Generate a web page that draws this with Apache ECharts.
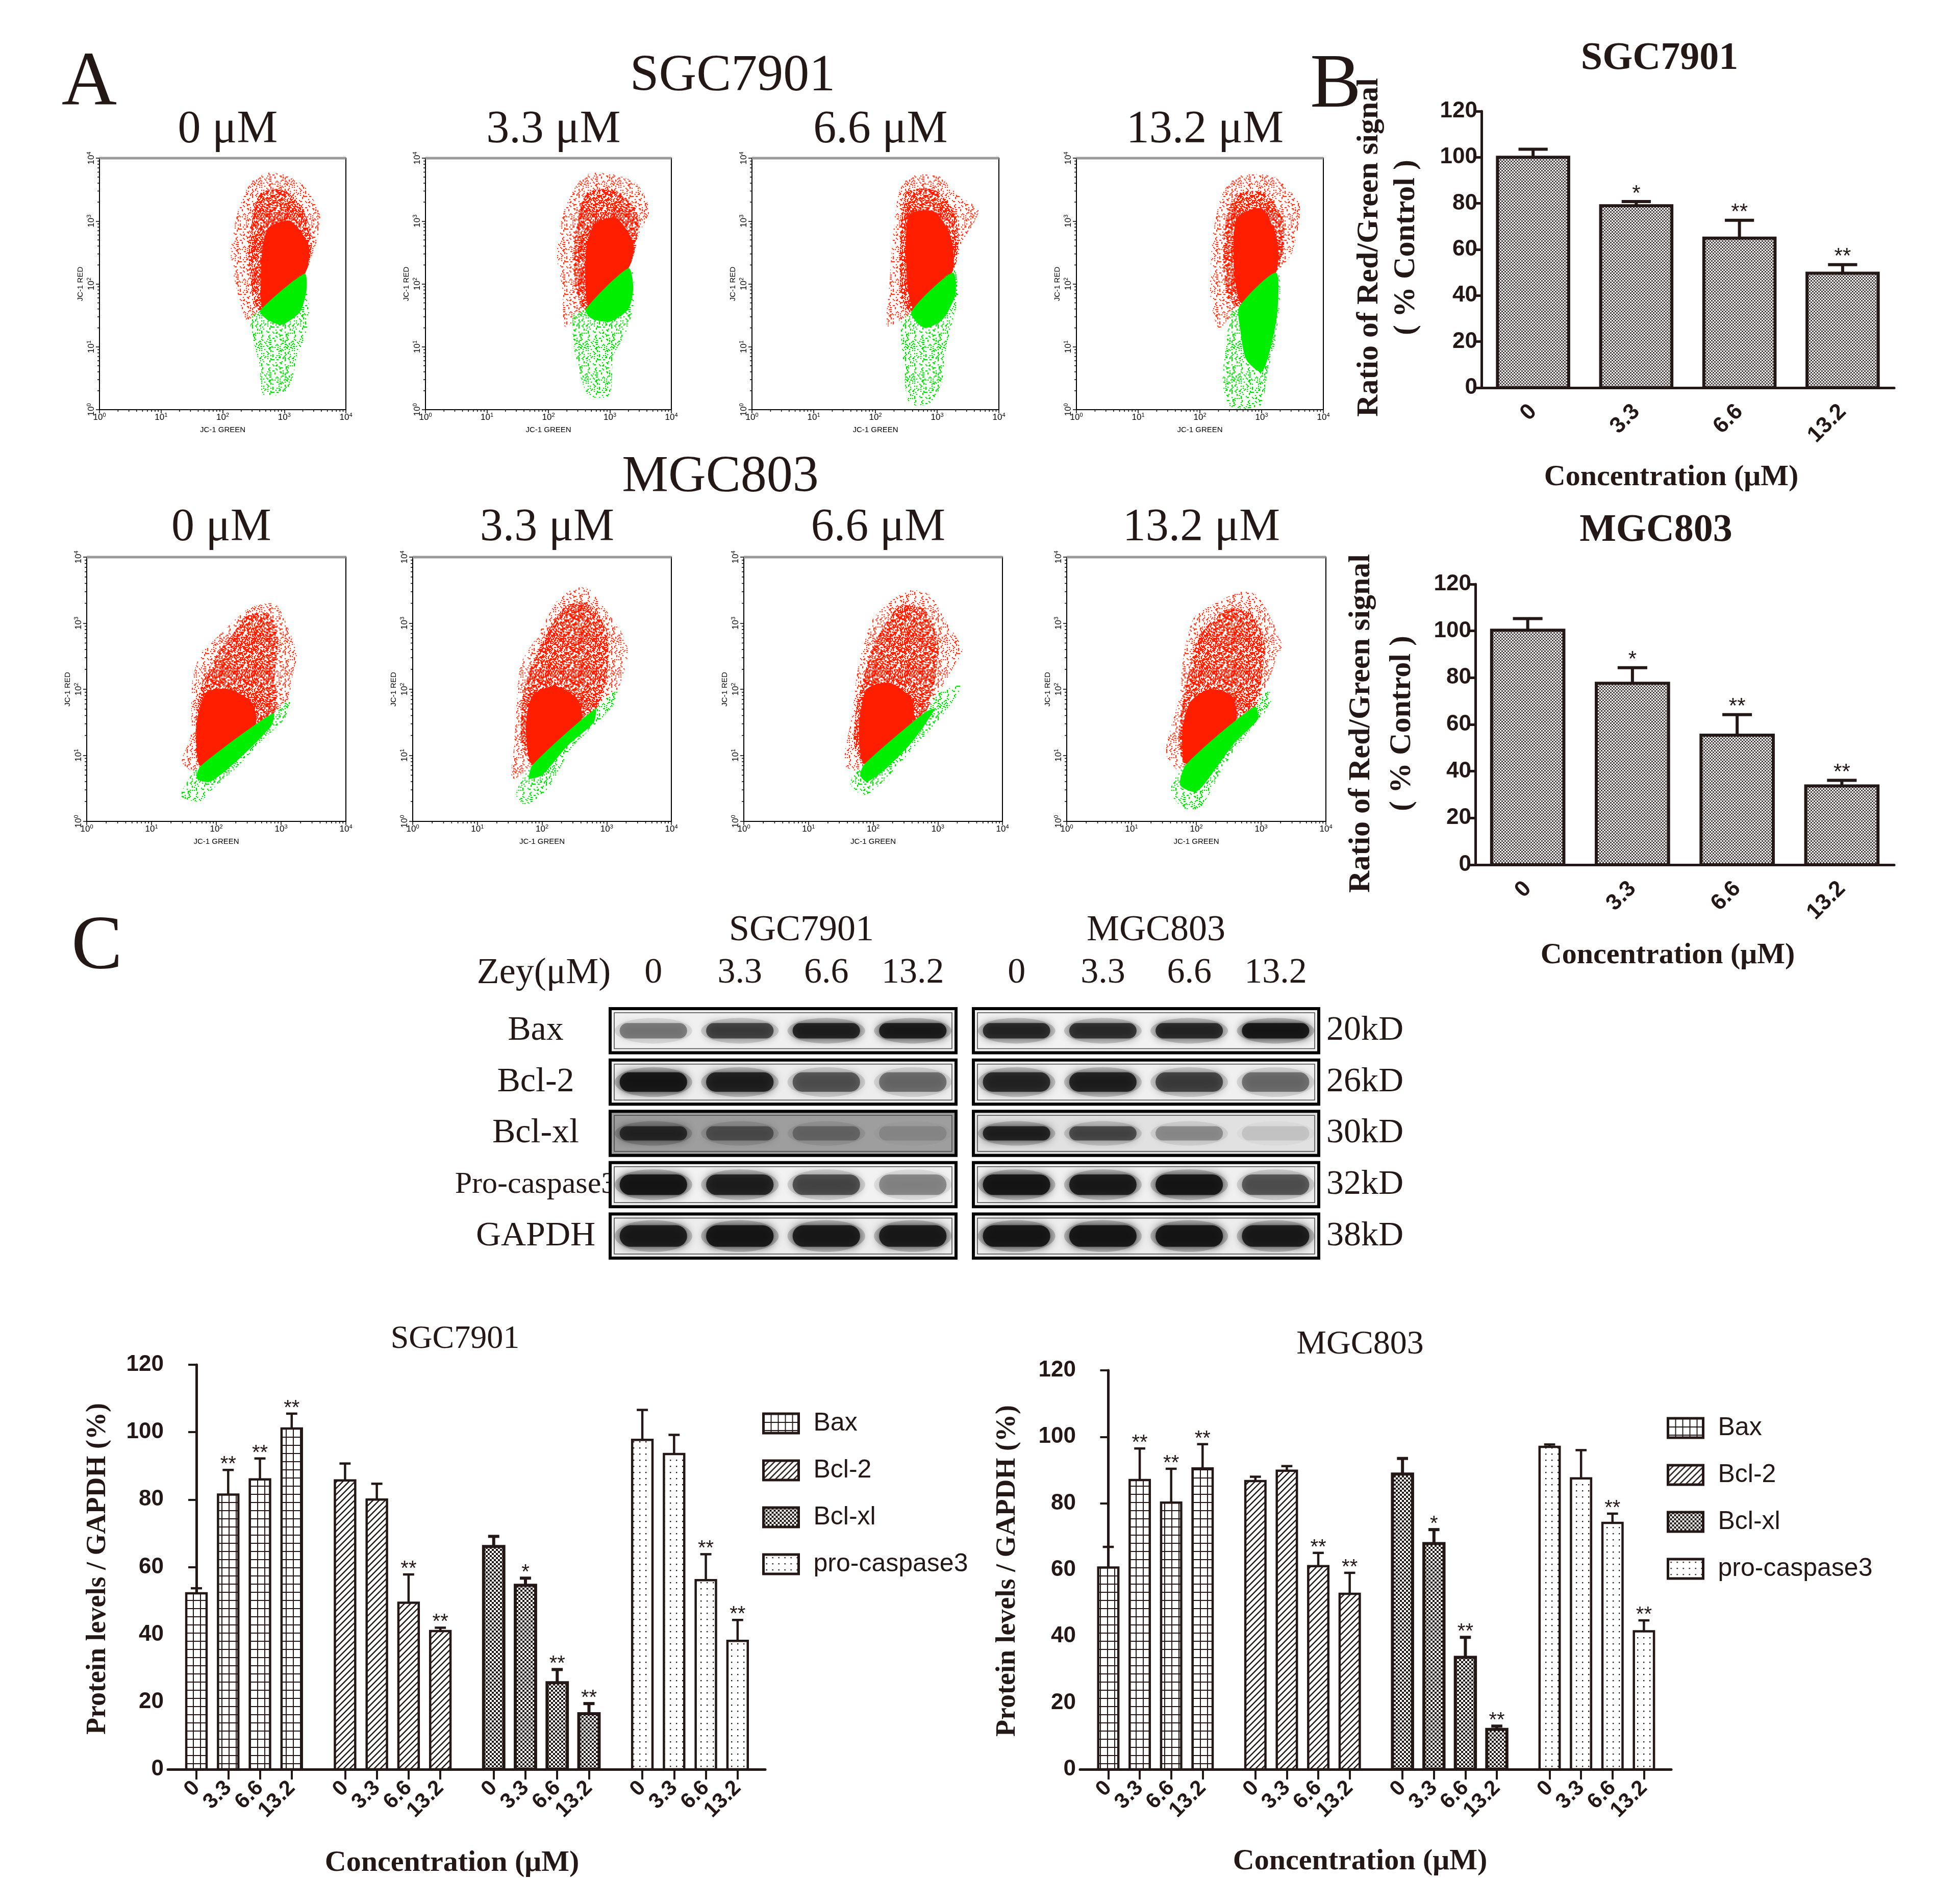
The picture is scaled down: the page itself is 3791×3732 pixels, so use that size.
<!DOCTYPE html>
<html>
<head>
<meta charset="utf-8">
<script src="https://cdn.jsdelivr.net/npm/echarts@6/dist/echarts.min.js"></script>
<style>
  html, body { margin: 0; padding: 0; background: #fff; }
  #main { width: 3791px; height: 3732px; }
</style>
</head>
<body>
<div id="main"></div>
<script>
// ---------------- data ----------------
const doses = ['0', '3.3', '6.6', '13.2'];
const flowLabels = ['0 μM', '3.3 μM', '6.6 μM', '13.2 μM'];

// JC-1 flow cytometry clouds: outline vertices as [log10 green, log10 red]
const sgcRedOuter = [
  [[2.68,3.76],[2.99,3.74],[3.33,3.55],[3.57,3.13],[3.57,2.84],[3.44,2.42],[3.33,2.16],[2.61,1.58],[2.4,1.41],[2.23,1.91],[2.13,2.5],[2.23,3.09],[2.44,3.59]],
  [[2.68,3.76],[3.06,3.74],[3.44,3.59],[3.64,3.17],[3.47,2.79],[3.3,2.25],[2.61,1.6],[2.27,1.32],[2.23,1.91],[2.13,2.5],[2.23,3.09],[2.47,3.59]],
  [[2.58,3.72],[3.01,3.72],[3.14,3.62],[3.34,3.41],[3.67,3.17],[3.41,2.66],[3.24,2.18],[2.58,1.55],[2.19,1.33],[2.22,1.88],[2.29,2.83],[2.39,3.48]],
  [[2.64,3.72],[3.16,3.72],[3.36,3.58],[3.62,3.24],[3.49,2.49],[3.23,2.18],[2.64,1.64],[2.31,1.3],[2.17,1.81],[2.21,2.76],[2.37,3.45]]
];
const sgcRedMid = [
  [[2.62,3.45],[2.98,3.5],[3.3,3.2],[3.45,2.7],[3.33,2.16],[2.61,1.58],[2.47,1.9],[2.42,2.6],[2.5,3.1]],
  [[2.62,3.45],[3.05,3.5],[3.42,3.2],[3.45,2.75],[3.3,2.25],[2.61,1.6],[2.45,1.9],[2.42,2.6],[2.5,3.1]],
  [[2.5,3.45],[2.95,3.5],[3.25,3.2],[3.35,2.7],[3.24,2.18],[2.58,1.55],[2.42,1.8],[2.4,2.6]],
  [[2.55,3.4],[3.05,3.45],[3.35,3.0],[3.35,2.5],[3.23,2.18],[2.64,1.64],[2.45,1.8],[2.38,2.6]]
];
const sgcRedCore = [
  [[2.75,2.9],[3.1,3.0],[3.4,2.6],[3.33,2.16],[2.66,1.63],[2.62,2.1],[2.65,2.6]],
  [[2.75,2.95],[3.1,3.05],[3.38,2.65],[3.3,2.25],[2.66,1.66],[2.6,2.1],[2.62,2.6]],
  [[2.55,3.1],[2.95,3.15],[3.22,2.75],[3.24,2.18],[2.62,1.62],[2.5,2.3]],
  [[2.6,3.05],[3.0,3.2],[3.25,2.7],[3.23,2.18],[2.68,1.7],[2.55,2.3]]
];
const sgcGreenOuter = [
  [[2.61,1.58],[3.33,2.18],[3.37,1.91],[3.4,1.4],[3.2,0.8],[3.1,0.4],[2.95,0.25],[2.65,0.25],[2.6,0.7],[2.5,1.1],[2.45,1.45]],
  [[2.61,1.6],[3.33,2.27],[3.4,1.91],[3.37,1.58],[3.25,1.2],[3.06,0.86],[2.99,0.23],[2.65,0.23],[2.44,0.86],[2.4,1.49]],
  [[2.58,1.55],[3.27,2.22],[3.34,1.81],[3.27,1.47],[3.14,0.96],[3.08,0.44],[2.88,0.1],[2.55,0.1],[2.45,0.78],[2.42,1.4]],
  [[2.64,1.64],[3.26,2.18],[3.3,1.81],[3.23,1.13],[3.1,0.61],[2.97,0.05],[2.5,0.05],[2.37,0.44],[2.44,1.13],[2.5,1.54]]
];
const sgcGreenCore = [
  [[2.61,1.58],[3.33,2.16],[3.36,1.9],[3.25,1.55],[2.95,1.35],[2.7,1.45]],
  [[2.61,1.6],[3.3,2.25],[3.38,1.95],[3.3,1.6],[3.0,1.4],[2.7,1.45]],
  [[2.58,1.55],[3.25,2.18],[3.3,1.85],[3.1,1.45],[2.8,1.3]],
  [[2.64,1.64],[3.23,2.18],[3.26,1.6],[3.15,1.0],[3.0,0.6],[2.75,0.8],[2.65,1.3]]
];
const mgcRedOuter = [
  [[2.71,3.29],[2.91,3.29],[3.01,3.15],[3.24,2.54],[3.17,2.17],[3.1,1.83],[2.91,1.66],[1.76,0.84],[1.63,0.76],[1.47,0.91],[1.6,1.28],[1.63,2.13],[1.76,2.54],[1.93,2.71],[2.45,3.19]],
  [[2.52,3.53],[2.71,3.53],[2.97,3.22],[3.24,2.85],[3.33,2.54],[3.17,2.0],[2.84,1.72],[1.86,0.86],[1.54,0.64],[1.57,1.15],[1.6,1.66],[1.67,2.37],[1.93,2.81],[2.25,3.36]],
  [[2.59,3.5],[2.87,3.43],[3.13,3.02],[3.38,2.61],[3.25,2.34],[3.0,1.93],[2.81,1.66],[1.87,0.87],[1.71,0.77],[1.55,0.87],[1.68,1.66],[1.77,2.34],[1.99,3.05],[2.31,3.36]],
  [[2.7,3.48],[2.92,3.43],[3.11,3.16],[3.33,2.65],[3.26,2.54],[3.11,2.1],[2.92,1.76],[1.85,0.87],[1.72,0.77],[1.53,1.04],[1.72,1.83],[1.82,2.61],[1.97,3.09],[2.35,3.33]]
];
const mgcRedMid = [
  [[2.45,3.1],[2.8,3.15],[2.95,2.8],[2.9,2.2],[2.91,1.66],[1.76,0.84],[1.68,1.3],[1.75,2.0],[2.0,2.5],[2.3,2.9]],
  [[2.35,3.25],[2.7,3.3],[3.0,2.9],[3.0,2.2],[2.84,1.72],[1.86,0.86],[1.68,1.2],[1.72,2.0],[1.95,2.6]],
  [[2.4,3.25],[2.8,3.2],[3.0,2.7],[2.95,2.1],[2.81,1.66],[1.87,0.87],[1.7,1.2],[1.8,2.0],[2.05,2.75]],
  [[2.45,3.2],[2.85,3.15],[3.05,2.7],[3.0,2.1],[2.92,1.76],[1.85,0.87],[1.72,1.25],[1.85,2.1],[2.05,2.8]]
];
const mgcRedCore = [
  [[1.76,0.84],[2.6,1.45],[2.55,1.8],[2.2,2.0],[1.85,1.95],[1.7,1.5],[1.7,1.05]],
  [[1.86,0.86],[2.6,1.5],[2.55,1.85],[2.2,2.05],[1.85,1.9],[1.75,1.4]],
  [[1.87,0.87],[2.6,1.5],[2.6,1.85],[2.25,2.1],[1.9,2.0],[1.78,1.4]],
  [[1.85,0.87],[2.6,1.5],[2.55,1.9],[2.2,2.0],[1.9,1.8],[1.78,1.3]]
];
const mgcGreenOuter = [
  [[1.76,0.84],[2.91,1.66],[3.15,1.85],[3.05,1.55],[2.7,1.22],[2.3,0.8],[1.9,0.45],[1.75,0.3],[1.45,0.38],[1.55,0.6],[1.65,0.75]],
  [[1.86,0.86],[2.84,1.72],[3.17,2.0],[3.1,1.75],[2.75,1.4],[2.45,1.1],[2.1,0.5],[1.75,0.25],[1.6,0.4],[1.7,0.65]],
  [[1.87,0.87],[2.81,1.66],[3.0,1.93],[3.38,2.06],[3.06,1.59],[2.56,1.04],[2.18,0.63],[1.87,0.39],[1.65,0.56],[1.71,0.73]],
  [[1.85,0.87],[2.92,1.76],[3.11,2.0],[3.15,1.8],[2.9,1.45],[2.6,1.1],[2.3,0.6],[2.05,0.2],[1.8,0.2],[1.6,0.45],[1.7,0.7]]
];
const mgcGreenCore = [
  [[1.76,0.84],[2.88,1.64],[2.85,1.45],[2.3,0.9],[1.9,0.6],[1.7,0.65]],
  [[1.86,0.86],[2.82,1.7],[2.8,1.5],[2.4,1.15],[2.0,0.7],[1.8,0.65]],
  [[1.87,0.87],[2.8,1.65],[2.95,1.7],[2.6,1.2],[2.2,0.8],[1.9,0.6],[1.8,0.7]],
  [[1.85,0.87],[2.9,1.74],[2.95,1.55],[2.6,1.2],[2.3,0.8],[2.0,0.45],[1.75,0.55]]
];

// panel B: red/green ratio (% control)
const sgcRatio = [100, 79, 64.9, 49.7];
const sgcRatioErr = [103.5, 80.8, 72.7, 53.4];
const sgcRatioStars = ['', '*', '**', '**'];
const mgcRatio = [100.3, 77.6, 55.4, 33.7];
const mgcRatioErr = [105.3, 84.3, 64.2, 36.1];
const mgcRatioStars = ['', '*', '**', '**'];

// panel C: western blots (band darkness 0..1)
const blotRows = ['Bax', 'Bcl-2', 'Bcl-xl', 'Pro-caspase3', 'GAPDH'];
const blotKd = ['20kD', '26kD', '30kD', '32kD', '38kD'];
const sgcBands = [[0.45,0.7,0.9,0.95],[1,0.9,0.6,0.5],[0.8,0.5,0.35,0.15],[1,0.9,0.65,0.4],[0.95,1,0.95,0.95]];
const mgcBands = [[0.85,0.8,0.85,1],[0.85,0.9,0.7,0.5],[0.9,0.65,0.35,0.12],[1,0.95,1,0.6],[1,1,1,0.95]];
const sgcBlotBg = [0.04, 0.05, 0.36, 0.03, 0.05];
const mgcBlotBg = [0.03, 0.04, 0.1, 0.04, 0.05];

// panel C: protein levels / GAPDH (%)
const proteins = ['Bax', 'Bcl-2', 'Bcl-xl', 'pro-caspase3'];
const sgcProtein = [[52.2,81.5,86,101.1],[85.7,80,49.4,41],[66.1,54.6,25.7,16.5],[97.7,93.5,56.1,38.1]];
const sgcProteinErr = [[53.7,88.8,92.2,105.5],[90.7,84.7,57.8,42],[69.1,56.7,29.6,19.5],[106.6,99.2,63.8,44.3]];
const sgcProteinStars = [['','**','**','**'],['','','**','**'],['','*','**','**'],['','','**','**']];
const mgcProtein = [[60.7,87,80.2,90.5],[86.7,89.8,61.1,52.8],[88.8,67.9,33.7,12],[97,87.5,74.1,41.5]];
const mgcProteinErr = [[66.9,96.5,90.4,97.8],[88,91.2,65.1,59.1],[93.5,72.1,39.7,13],[97.7,96,76.9,44.8]];
const mgcProteinStars = [['','**','**','**'],['','','**','**'],['','*','**','**'],['','','**','**']];

// ---------------- styles ----------------
const INK = '#231816';
const SERIF = "'Liberation Serif','Times New Roman',serif";
const SANS = "'Liberation Sans',Arial,sans-serif";

function pattern(w, h, draw) {
  const c = document.createElement('canvas');
  c.width = w; c.height = h;
  const ctx = c.getContext('2d');
  ctx.fillStyle = '#fff';
  draw(ctx);
  return { image: c, repeat: 'repeat' };
}
// fine speckle texture for the cytometry dots (fixed integer hash on a 2px lattice)
function cellHash(x, y) {
  let h = Math.imul(x ^ (y << 16), 0x45d9f3b);
  h ^= h >>> 16;
  h = Math.imul(h, 0x45d9f3b);
  h ^= h >>> 16;
  return (h >>> 0) % 1000;
}
function speckle(color, share) {
  return pattern(64, 64, ctx => {
    ctx.fillStyle = color;
    for (let y = 0; y < 64; y += 2) {
      for (let x = 0; x < 64; x += 2) {
        if (cellHash(x + 1, y + 3) < share * 1000) ctx.fillRect(x, y, 2.2, 2.2);
      }
    }
  });
}
const redSparse = speckle('#ff3a1a', 0.22);
const redMid = speckle('#ff2000', 0.58);
const greenSparse = speckle('#00e000', 0.22);
const checkerB = pattern(6, 6, ctx => { ctx.fillRect(0,0,6,6); ctx.fillStyle = '#4a4040'; ctx.fillRect(0,0,3,3); ctx.fillRect(3,3,3,3); });
const patBax = pattern(14, 16, ctx => { ctx.fillRect(0,0,14,16); ctx.fillStyle = INK; ctx.fillRect(0,0,14,2); ctx.fillRect(0,0,2,16); });
const patBcl2 = pattern(12, 12, ctx => {
  ctx.fillRect(0,0,12,12); ctx.strokeStyle = INK; ctx.lineWidth = 2.5;
  [[-6,6,6,-6],[0,12,12,0],[6,18,18,6]].forEach(l => { ctx.beginPath(); ctx.moveTo(l[0],l[1]); ctx.lineTo(l[2],l[3]); ctx.stroke(); });
});
const patBclxl = pattern(8, 8, ctx => { ctx.fillRect(0,0,8,8); ctx.fillStyle = INK; ctx.fillRect(0,0,4,4); ctx.fillRect(4,4,4,4); });
const patPro = pattern(12, 12, ctx => { ctx.fillRect(0,0,12,12); ctx.fillStyle = INK; ctx.fillRect(5,5,2.4,2.4); });
const proteinFills = [patBax, patBcl2, patBclxl, patPro];

// ---------------- layout ----------------
const flowBoxes = [
  [195,310,483,493],[834,310,482,493],[1474,310,484,493],[2110,310,484,493],
  [170,1092,508,518],[809,1092,507,518],[1458,1092,507,518],[2091,1092,508,518]
];
const grid = [], xAxis = [], yAxis = [], series = [];

const minorTicks = [];
for (let d = 0; d < 4; d++) for (let k = 2; k <= 9; k++) minorTicks.push([d + Math.log10(k), d + Math.log10(k)]);

const expLabel = v => '{b|10}{e|' + v + '}';
const expRich = { b: { fontSize: 17, fontFamily: SANS, color: '#000' }, e: { fontSize: 11, fontFamily: SANS, color: '#000', padding: [0, 0, 10, 0] } };

function addCloud(k, poly, fill, z) {
  series.push({
    type: 'custom', xAxisIndex: k, yAxisIndex: k, data: poly, silent: true, z,
    renderItem: (params, api) => params.dataIndex === 0 ? {
      type: 'polygon',
      shape: { points: poly.map(p => api.coord(p)), smooth: 0.25 },
      style: { fill }
    } : null
  });
}

flowBoxes.forEach((b, k) => {
  grid.push({ left: b[0], top: b[1], width: b[2], height: b[3], show: true, borderColor: '#000', borderWidth: 2 });
  xAxis.push({
    gridIndex: k, type: 'value', min: 0, max: 4, interval: 1,
    axisLine: { lineStyle: { color: '#000', width: 2 } },
    axisTick: { length: 7, lineStyle: { color: '#000', width: 1.5 } },
    splitLine: { show: false },
    axisLabel: { formatter: expLabel, rich: expRich, margin: 5 },
    name: 'JC-1 GREEN', nameLocation: 'middle', nameGap: 32,
    nameTextStyle: { fontSize: 15, fontFamily: SANS, color: '#000' }
  });
  yAxis.push({
    gridIndex: k, type: 'value', min: 0, max: 4, interval: 1,
    axisLine: { lineStyle: { color: '#000', width: 2 } },
    axisTick: { length: 7, lineStyle: { color: '#000', width: 1.5 } },
    splitLine: { show: false },
    axisLabel: { formatter: expLabel, rich: expRich, rotate: 90, margin: 5 },
    name: 'JC-1 RED', nameLocation: 'middle', nameGap: 30,
    nameTextStyle: { fontSize: 15, fontFamily: SANS, color: '#000' }
  });
  const row = k < 4 ? 0 : 1, c = k % 4;
  addCloud(k, (row ? mgcRedOuter : sgcRedOuter)[c], redSparse, 2);
  addCloud(k, (row ? mgcRedMid : sgcRedMid)[c], redMid, 3);
  addCloud(k, (row ? mgcRedCore : sgcRedCore)[c], '#ff1e00', 4);
  addCloud(k, (row ? mgcGreenOuter : sgcGreenOuter)[c], greenSparse, 5);
  addCloud(k, (row ? mgcGreenCore : sgcGreenCore)[c], '#00ee00', 6);
  series.push({
    type: 'custom', xAxisIndex: k, yAxisIndex: k, data: minorTicks, silent: true, z: 7,
    renderItem: (params, api) => {
      const v = api.value(0);
      const px = api.coord([v, 0]), py = api.coord([0, v]);
      const children = [
        { type: 'line', shape: { x1: px[0], y1: px[1], x2: px[0], y2: px[1] + 4 }, style: { stroke: '#000', lineWidth: 1.5 } },
        { type: 'line', shape: { x1: py[0], y1: py[1], x2: py[0] - 4, y2: py[1] }, style: { stroke: '#000', lineWidth: 1.5 } }
      ];
      if (params.dataIndex === 0) {
        const cs = params.coordSys;
        children.push({ type: 'line', shape: { x1: cs.x, y1: cs.y, x2: cs.x + cs.width, y2: cs.y }, style: { stroke: '#9a9a9a', lineWidth: 5 } });
      }
      return { type: 'group', children };
    }
  });
});

// bar + upper error bar + significance marks
function barItem(fillOf, widthFrac, lineW, capFrac, stars, starSize, starDrop) {
  return (params, api) => {
    const x = api.value(0), v = api.value(1), e = api.value(2);
    const top = api.coord([x, v]), base = api.coord([x, 0]), errTop = api.coord([x, e]);
    const w = api.size([1, 0])[0] * widthFrac;
    const cap = w * capFrac;
    const children = [
      { type: 'line', shape: { x1: top[0], y1: top[1], x2: top[0], y2: errTop[1] }, style: { stroke: INK, lineWidth: lineW } },
      { type: 'line', shape: { x1: top[0] - cap / 2, y1: errTop[1], x2: top[0] + cap / 2, y2: errTop[1] }, style: { stroke: INK, lineWidth: lineW } },
      { type: 'rect', shape: { x: top[0] - w / 2, y: top[1], width: w, height: base[1] - top[1] }, style: { fill: fillOf, stroke: INK, lineWidth: lineW } }
    ];
    const s = stars[params.dataIndex];
    if (s) children.push({ type: 'text', style: { text: s, x: top[0], y: errTop[1] + starDrop, textAlign: 'center', textVerticalAlign: 'bottom', fontSize: starSize, fontFamily: SANS, fill: INK } });
    return { type: 'group', children };
  };
}

// panel B
const ratioPanels = [
  { box: [2904, 218, 809, 542], values: sgcRatio, errs: sgcRatioErr, stars: sgcRatioStars },
  { box: [2892, 1145, 821, 550], values: mgcRatio, errs: mgcRatioErr, stars: mgcRatioStars }
];
ratioPanels.forEach(p => {
  const k = grid.length;
  grid.push({ left: p.box[0], top: p.box[1], width: p.box[2], height: p.box[3] });
  xAxis.push({
    gridIndex: k, type: 'category', data: doses,
    axisLine: { lineStyle: { color: INK, width: 5 } },
    axisTick: { alignWithLabel: true, length: 18, lineStyle: { color: INK, width: 5 } },
    axisLabel: { rotate: 45, fontSize: 44, fontWeight: 'bold', fontFamily: SANS, color: INK, margin: 40 }
  });
  yAxis.push({
    gridIndex: k, type: 'value', min: 0, max: 120, interval: 20,
    axisLine: { show: true, lineStyle: { color: INK, width: 5 } },
    axisTick: { show: true, length: 15, lineStyle: { color: INK, width: 5 } },
    splitLine: { show: false },
    axisLabel: { fontSize: 44, fontWeight: 'bold', fontFamily: SANS, color: INK, margin: 8 }
  });
  series.push({
    type: 'custom', xAxisIndex: k, yAxisIndex: k, silent: true, z: 3,
    data: p.values.map((v, i) => [i, v, p.errs[i]]),
    renderItem: barItem(checkerB, 0.69, 6, 0.41, p.stars, 42, 6)
  });
});

// panel C blots
const blotPanels = [
  { box: [1196, 1970, 678, 503], bands: sgcBands, bg: sgcBlotBg, side: 'left' },
  { box: [1908, 1970, 677, 503], bands: mgcBands, bg: mgcBlotBg, side: 'right' }
];
const bandHeights = [0.3, 0.38, 0.28, 0.4, 0.42];
blotPanels.forEach(p => {
  const k = grid.length;
  grid.push({ left: p.box[0], top: p.box[1], width: p.box[2], height: p.box[3] });
  xAxis.push({
    gridIndex: k, type: 'category', data: doses, position: 'top',
    axisLine: { show: false }, axisTick: { show: false },
    axisLabel: { fontSize: 70, fontFamily: SERIF, color: INK, margin: 27 }
  });
  const left = p.side === 'left';
  yAxis.push({
    gridIndex: k, type: 'category', data: left ? blotRows : blotKd, inverse: true,
    position: p.side,
    axisLine: { show: false }, axisTick: { show: false },
    axisLabel: left ? {
      align: 'center', margin: 146,
      formatter: v => v === 'Pro-caspase3' ? '{s|' + v + '}' : '{n|' + v + '}',
      rich: { s: { fontSize: 60, fontFamily: SERIF, color: INK }, n: { fontSize: 68, fontFamily: SERIF, color: INK } }
    } : { align: 'left', margin: 15, fontSize: 68, fontFamily: SERIF, color: INK }
  });
  series.push({
    type: 'custom', xAxisIndex: k, yAxisIndex: k, silent: true, z: 1,
    data: p.bg.map((g, r) => [0, r, g]),
    renderItem: (params, api) => {
      const cs = params.coordSys;
      const c = api.coord([0, api.value(1)]);
      const h = api.size([1, 1])[1] * 0.86;
      const lv = Math.round(250 - 255 * api.value(2));
      return { type: 'rect', shape: { x: cs.x, y: c[1] - h / 2, width: cs.width, height: h }, style: { fill: `rgb(${lv},${lv},${lv})` } };
    }
  });
  const bandData = [];
  p.bands.forEach((row, r) => row.forEach((a, l) => bandData.push([l, r, a])));
  series.push({
    type: 'custom', xAxisIndex: k, yAxisIndex: k, silent: true, z: 2,
    data: bandData,
    renderItem: (params, api) => {
      const c = api.coord([api.value(0), api.value(1)]);
      const sz = api.size([1, 1]);
      const a = api.value(2);
      const w = sz[0] * 0.78, h = sz[1] * bandHeights[api.value(1)];
      const col = `rgba(18,18,18,${a * 0.92})`;
      return { type: 'group', children: [
        { type: 'ellipse', shape: { cx: c[0], cy: c[1], rx: w / 2 + 10, ry: h / 2 + 10 }, style: { fill: `rgba(18,18,18,${a * 0.22})`, shadowBlur: 22, shadowColor: `rgba(18,18,18,${a * 0.3})` } },
        { type: 'rect', shape: { x: c[0] - w / 2, y: c[1] - h / 2, width: w, height: h, r: h / 2 }, style: { fill: col, shadowBlur: 16, shadowColor: col } }
      ] };
    }
  });
  series.push({
    type: 'custom', xAxisIndex: k, yAxisIndex: k, silent: true, z: 3,
    data: p.bg.map((g, r) => [0, r]),
    renderItem: (params, api) => {
      const cs = params.coordSys;
      const c = api.coord([0, api.value(1)]);
      const h = api.size([1, 1])[1] * 0.86;
      return { type: 'group', children: [
        { type: 'rect', shape: { x: cs.x, y: c[1] - h / 2, width: cs.width, height: h }, style: { fill: 'none', stroke: '#000', lineWidth: 6 } },
        { type: 'rect', shape: { x: cs.x + 8, y: c[1] - h / 2 + 8, width: cs.width - 16, height: h - 16 }, style: { fill: 'none', stroke: '#444', lineWidth: 1.5 } }
      ] };
    }
  });
});

// panel C quantification
const GROUP_STEP = 4.68;
const barPos = (g, i) => g * GROUP_STEP + i;
const barTicks = [];
proteins.forEach((_, g) => doses.forEach((_, i) => barTicks.push(barPos(g, i))));
const tickText = v => {
  const idx = barTicks.findIndex(t => Math.abs(t - v) < 0.01);
  return idx < 0 ? '' : doses[idx % 4];
};
const proteinPanels = [
  { box: [329, 2675, 1171, 793], values: sgcProtein, errs: sgcProteinErr, stars: sgcProteinStars },
  { box: [2117, 2686, 1159, 782], values: mgcProtein, errs: mgcProteinErr, stars: mgcProteinStars }
];
proteinPanels.forEach(p => {
  const k = grid.length;
  grid.push({ left: p.box[0], top: p.box[1], width: p.box[2], height: p.box[3] });
  xAxis.push({
    gridIndex: k, type: 'value', min: -0.9, max: 3 * GROUP_STEP + 3.87,
    axisLine: { lineStyle: { color: INK, width: 5 } },
    axisTick: { customValues: barTicks, length: 20, lineStyle: { color: INK, width: 4 } },
    splitLine: { show: false },
    axisLabel: {
      customValues: barTicks, formatter: tickText, rotate: 45, fontSize: 42, fontWeight: 'bold',
      fontFamily: SANS, color: INK, margin: 30, hideOverlap: false, showMinLabel: true, showMaxLabel: true
    }
  });
  yAxis.push({
    gridIndex: k, type: 'value', min: 0, max: 120, interval: 20,
    axisLine: { show: true, lineStyle: { color: INK, width: 5 } },
    axisTick: { show: true, length: 16, lineStyle: { color: INK, width: 4 } },
    splitLine: { show: false },
    axisLabel: { fontSize: 44, fontWeight: 'bold', fontFamily: SANS, color: INK, margin: 8 }
  });
  proteins.forEach((name, g) => {
    series.push({
      type: 'custom', name, xAxisIndex: k, yAxisIndex: k, z: 3,
      itemStyle: { color: proteinFills[g], borderColor: INK, borderWidth: 5 },
      data: p.values[g].map((v, i) => [barPos(g, i), v, p.errs[g][i]]),
      renderItem: barItem(proteinFills[g], 0.64, g === 2 ? 6 : 4.5, 0.55, p.stars[g], 40, 10)
    });
  });
});

const legendData = proteins.map((name, g) => ({ name, itemStyle: { color: proteinFills[g], borderColor: INK, borderWidth: 5 } }));
const legendBase = {
  orient: 'vertical', icon: 'rect', itemWidth: 69, itemHeight: 38, itemGap: 42,
  selectedMode: false, data: legendData,
  textStyle: { fontSize: 50, fontFamily: SANS, color: INK, padding: [0, 0, 0, 24] }
};

// free-standing text
const texts = [
  ['A', 175, 165, 150, 'normal', 0],
  ['B', 2618, 170, 150, 'normal', 0],
  ['C', 190, 1859, 150, 'normal', 0],
  ['SGC7901', 1436, 150, 102, 'normal', 0],
  ['MGC803', 1412, 936, 102, 'normal', 0],
  ['SGC7901', 3253, 115, 76, 'bold', 0],
  ['MGC803', 3246, 1040, 76, 'bold', 0],
  ['Ratio of Red/Green signal', 2684, 485, 60, 'bold', 90],
  ['( % Control )', 2756, 485, 60, 'bold', 90],
  ['Ratio of Red/Green signal', 2668, 1418, 60, 'bold', 90],
  ['( % Control )', 2748, 1418, 60, 'bold', 90],
  ['Concentration (μM)', 3276, 936, 58, 'bold', 0],
  ['Concentration (μM)', 3269, 1873, 58, 'bold', 0],
  ['SGC7901', 1571, 1824, 72, 'normal', 0],
  ['MGC803', 2266, 1824, 72, 'normal', 0],
  ['Zey(μM)', 1066, 1908, 72, 'normal', 0],
  ['SGC7901', 892, 2625, 64, 'normal', 0],
  ['MGC803', 2666, 2636, 66, 'normal', 0],
  ['Protein levels / GAPDH (%)', 192, 3075, 54, 'bold', 90],
  ['Protein levels / GAPDH (%)', 1975, 3079, 54, 'bold', 90],
  ['Concentration (μM)', 886, 3652, 58, 'bold', 0],
  ['Concentration (μM)', 2666, 3649, 58, 'bold', 0]
];
flowBoxes.forEach((b, k) => texts.push([flowLabels[k % 4], b[0] + b[2] / 2 + 10, k < 4 ? 255 : 1035, 90, 'normal', 0]));

const graphic = texts.map(t => ({
  type: 'text', x: t[1], y: t[2], rotation: t[5] * Math.PI / 180, silent: true,
  style: { text: t[0], fontSize: t[3], fontWeight: t[4], fontFamily: SERIF, fill: INK, textAlign: 'center', textVerticalAlign: 'middle' }
}));

const chart = echarts.init(document.getElementById('main'), null, { renderer: 'canvas' });
chart.setOption({
  backgroundColor: '#fff',
  animation: false,
  grid, xAxis, yAxis, series, graphic,
  legend: [
    Object.assign({ left: 1489, top: 2760 }, legendBase),
    Object.assign({ left: 3262, top: 2769 }, legendBase)
  ]
});
</script>
</body>
</html>
